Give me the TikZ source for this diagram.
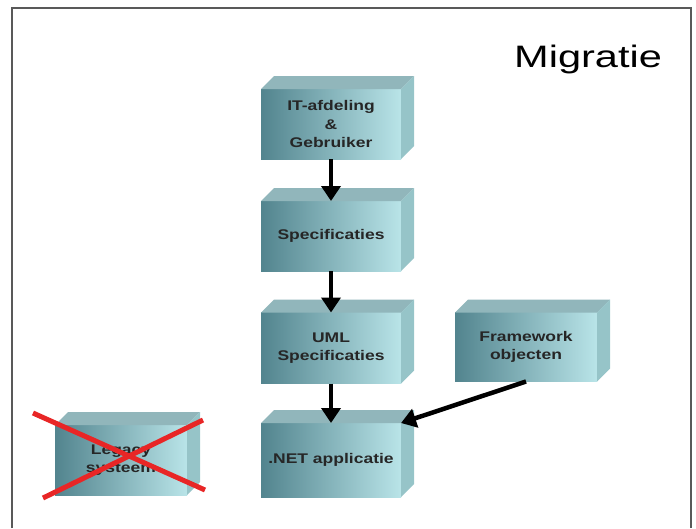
\documentclass[tikz,border=0pt]{standalone}
\usepackage{fontspec}
\setmainfont{Liberation Sans}
\newfontfamily\blokfont[FakeStretch=1.25]{Liberation Sans Bold}
\newfontfamily\titelfont[FakeStretch=1.34]{Liberation Sans}
\usetikzlibrary{arrows.meta, calc}

\definecolor{boxdark}{RGB}{82,132,142}
\definecolor{boxmid}{RGB}{150,200,205}
\definecolor{boxlight}{RGB}{185,228,232}
\definecolor{boxtop}{RGB}{145,182,187}
\definecolor{boxside}{RGB}{150,196,200}
\definecolor{kruis}{RGB}{232,38,38}

\tikzset{
    blok/.style={minimum width=140pt, minimum height=70pt, inner sep=0pt, outer sep=0pt,
        left color=boxdark, middle color=boxmid, right color=boxlight,
        align=center, font=\blokfont\fontsize{14}{18.5}\selectfont, text=black!85},
    pijl/.style={-{Triangle[width=19pt 0,length=15pt 0]}, line width=4.5pt, black}
}

\begin{document}
\begin{tikzpicture}[x=1pt, y=-1pt]
    \useasboundingbox (0,0) rectangle (696,528);

    % Frame
    \draw[gray!70!black, line width=1.5pt] (12,528) -- (12,8) -- (691,8) -- (691,528);

    % Title
    \node[anchor=base west, font=\titelfont\fontsize{31}{36}\selectfont, inner sep=0pt] (titel) at (514,67) {Migratie};

    % Boxes
    \node[blok] (it) at (331,124) {IT-afdeling\\\&\\Gebruiker};
    \node[blok] (spec) at (331,236) {Specificaties};
    \node[blok, minimum height=71pt] (uml) at (331,348) {UML\\Specificaties};
    \node[blok, minimum height=74pt] (net) at (331,460) {.NET applicatie};
    \node[blok, minimum width=142pt, minimum height=69pt] (fw) at (526,347) {Framework\\objecten};
    \node[blok, minimum width=132pt] (legacy) at (121,460) {Legacy\\systeem};

    % Top and side faces
    \foreach \n in {it,spec,uml,net,fw,legacy}{
        \fill[boxtop] (\n.north west) -- ++(13,-13) -- ($(\n.north east)+(13,-13)$) -- (\n.north east) -- cycle;
        \fill[boxside] (\n.north east) -- ++(13,-13) -- ($(\n.south east)+(13,-13)$) -- (\n.south east) -- cycle;
    }

    % Arrows
    \draw[pijl] (it.south) -- (spec.north);
    \draw[pijl] (spec.south) -- (uml.north);
    \draw[pijl] (uml.south) -- (net.north);
    \draw[pijl] (fw.south) -- (net.north east);

    % Legacy crossed out
    \coordinate (x1) at (33,413);
    \coordinate (x2) at (205,490);
    \coordinate (x3) at (43,498);
    \coordinate (x4) at (203,420);
    \draw[kruis, line width=5pt] (x1) -- (x2);
    \draw[kruis, line width=5pt] (x3) -- (x4);

\end{tikzpicture}
\end{document}
